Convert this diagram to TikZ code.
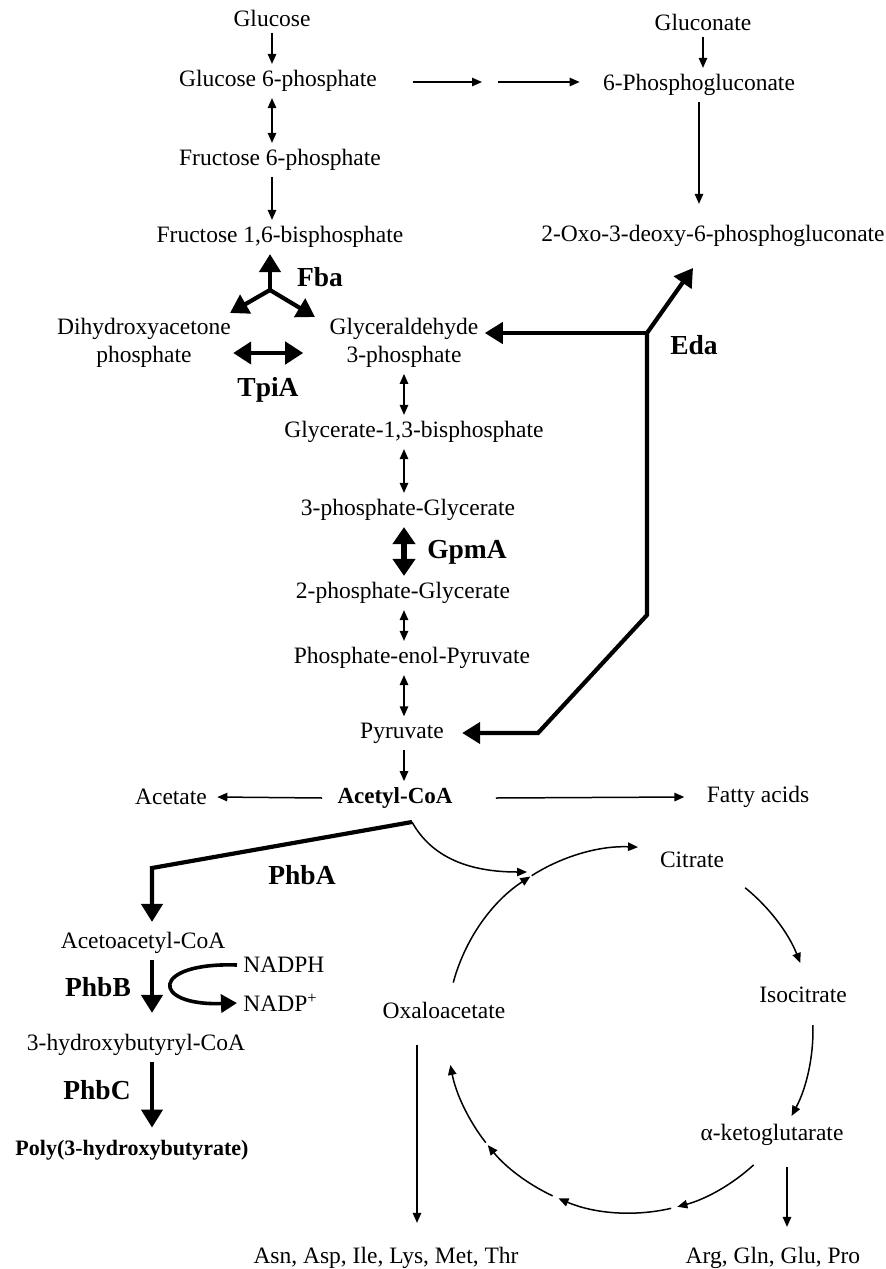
\documentclass[tikz,border=0pt]{standalone}
\usepackage{fontspec}
\setmainfont{Liberation Serif}
\usetikzlibrary{arrows.meta,calc}
\newcommand\metfont{\fontsize{11.75}{13.8}\selectfont}
\newcommand\enzfont{\fontsize{13.75}{16}\selectfont\bfseries}
\tikzset{
  met/.style={font=\metfont,inner sep=3pt,align=center},
  keymet/.style={met,font=\fontsize{11.5}{13.8}\selectfont\bfseries},
  enz/.style={font=\enzfont,inner sep=1pt},
  flow/.style={-{Triangle[length=5pt,width=4.2pt]},line width=0.75pt},
  flowboth/.style={{Triangle[length=5pt,width=4.2pt]}-{Triangle[length=5pt,width=4.2pt]},
                   line width=0.75pt},
  boldarr/.style={-{Triangle[length=9pt,width=10.5pt]},line width=2.1pt},
  boldboth/.style={{Triangle[length=9pt,width=11pt]}-{Triangle[length=9pt,width=11pt]},
                   line width=2.1pt},
  gpmboth/.style={{Triangle[length=8.5pt,width=11pt]}-{Triangle[length=8.5pt,width=11pt]},
                  line width=3.4pt},
  curvarr/.style={-{Triangle[length=8pt,width=9pt]},line width=1.8pt}
}

\begin{document}
\begin{tikzpicture}[x=0.5pt,y=-0.5pt]
    \useasboundingbox (0,0) rectangle (886,1269);
    \node[met] (glc) at (272,18) {Glucose};
    \node[met] (g6p) at (278,81) {Glucose 6-phosphate};
    \node[met] (f6p) at (280,160) {Fructose 6-phosphate};
    \node[met] (fbp) at (280,237) {Fructose 1,6-bisphosphate};
    \node[met] (dhap) at (144,343) {Dihydroxyacetone\\phosphate};
    \node[met] (gap) at (404,343) {Glyceraldehyde\\3-phosphate};
    \node[met] (g13bp) at (414,432) {Glycerate-1,3-bisphosphate};
    \node[met] (pg3) at (408,510) {3-phosphate-Glycerate};
    \node[met] (pg2) at (403,593) {2-phosphate-Glycerate};
    \node[met] (pep) at (412,658) {Phosphate-enol-Pyruvate};
    \node[met] (pyr) at (402,733) {Pyruvate};
    \node[keymet] (acoa) at (395,798) {Acetyl-CoA};
    \node[met] (acet) at (171,797) {Acetate};
    \node[met] (fatty) at (758,797) {Fatty acids};
    \node[met] (glcn) at (703,22) {Gluconate};
    \node[met] (ppg) at (699,85) {6-Phosphogluconate};
    \node[met] (kdpg) at (713,236) {2-Oxo-3-deoxy-6-phosphogluconate};

    \node[met] (acac) at (143,943) {Acetoacetyl-CoA};
    \node[met,anchor=west] (nadph) at (237,965) {NADPH};
    \node[met,anchor=west] (nadp) at (237,1003) {NADP\textsuperscript{+}};
    \node[met] (hbcoa) at (136,1045) {3-hydroxybutyryl-CoA};
    \node[met,font=\fontsize{11}{13}\selectfont\bfseries] (poly) at (132,1150)
      {Poly(3-hydroxybutyrate)};

    \node[met] (cit) at (692,860) {Citrate};
    \node[met] (icit) at (803,995) {Isocitrate};
    \node[met] (oaa) at (444,1010) {Oxaloacetate};
    \node[met] (akg) at (772,1135) {α-ketoglutarate};
    \node[met] (asn) at (386,1258) {Asn, Asp, Ile, Lys, Met, Thr};
    \node[met] (arg) at (773,1258) {Arg, Gln, Glu, Pro};

    \node[enz] (fba) at (320,277) {Fba};
    \node[enz] (tpia) at (268,390) {TpiA};
    \node[enz] (gpma) at (467,552) {GpmA};
    \node[enz] (eda) at (694,345) {Eda};
    \node[enz] (phba) at (302,875) {PhbA};
    \node[enz] (phbb) at (98,987) {PhbB};
    \node[enz] (phbc) at (97,1090) {PhbC};

    % upper glycolysis and gluconate
    \draw[flow] (glc.south) -- (glc.south |- g6p.north);
    \draw[flowboth] (glc.south |- g6p.south) -- (glc.south |- f6p.north);
    \draw[flow] (glc.south |- f6p.south) -- (glc.south |- fbp.north);
    \coordinate (ppmid) at (490,82);
    \draw[flow] ($(g6p.east |- ppmid)+(30,0)$) -- ($(ppmid)+(-8,0)$);
    \draw[flow] ($(ppmid)+(8,0)$) -- ($(ppmid -| ppg.west)+(-17,0)$);
    \draw[flow] (glcn.south) -- (glcn.south |- ppg.north);
    \draw[flow] (ppg.south) -- ($(ppg.south |- kdpg.north)+(0,-15)$);

    \coordinate (fbajn) at (270,290);
    \coordinate (fbaL) at (230,313);
    \coordinate (fbaR) at (315,317);
    \draw[boldarr] (fbajn) -- (fbajn |- fbp.south);
    \draw[boldarr] (fbajn) -- (fbaL);
    \draw[boldarr] (fbajn) -- (fbaR);
    \draw[boldboth] ($(dhap.east)+(-4,10)$) -- ($(gap.west)+(-20,10)$);

    % lower glycolysis
    \draw[flowboth] (gap.south) -- (gap.south |- g13bp.north);
    \draw[flowboth] (gap.south |- g13bp.south) -- (gap.south |- pg3.north);
    \draw[gpmboth] (gap.south |- pg3.south) -- (gap.south |- pg2.north);
    \draw[flowboth] (gap.south |- pg2.south) -- (gap.south |- pep.north);
    \draw[flowboth] (gap.south |- pep.south) -- (gap.south |- pyr.north);
    \draw[flow] (gap.south |- pyr.south) -- (gap.south |- acoa.north);
    \draw[flow] ($(acoa.west)+(-9,0)$) -- ($(acet.east)+(4,0)$);
    \draw[flow] ($(acoa.east)+(37,0)$) -- ($(fatty.west)+(-16,0)$);

    % Entner-Doudoroff branch
    \coordinate (edajn) at (647,333);
    \coordinate (edaup) at (693,268);
    \coordinate (edab1) at (647,615);
    \coordinate (edab2) at (538,733);
    \draw[boldarr] (edajn) -- (edajn -| gap.east);
    \draw[boldarr] (edajn) -- (edaup);
    \draw[boldarr] (edajn) -- (edab1) -- (edab2) -- ($(edab2 -| pyr.east)+(12,0)$);

    % PHB branch
    \coordinate (phbaS) at (412,822);
    \coordinate (phbaB) at (152,868);
    \draw[boldarr] (phbaS) -- (phbaB) -- ($(phbaB |- acac.north)+(0,-4)$);
    \draw[boldarr] (phbaB |- acac.south) -- ($(phbaB |- hbcoa.north)+(0,-15)$);
    \draw[curvarr] (nadph.west) .. controls (150,962) and (150,1006) .. (nadp.west);
    \draw[boldarr] (phbaB |- hbcoa.south) -- ($(phbaB |- poly.north)+(0,-6)$);

    % TCA cycle
    \coordinate (tca) at (630,1030);
    \coordinate (tcain) at (527,872);
    \draw[flow] (phbaS) .. controls (432,858) and (470,872) .. (tcain);
    \foreach \a/\b in {-165/-123,-122.5/-87.5,-51/-21.5,-1.5/28,47.5/75,77/113,115/141,142/169}
      \draw[flow] ($(tca)+(\a:183)$) arc[start angle=\a,end angle=\b,radius=183];
    \draw[flow] ($(oaa.south)+(-27,20)$) -- ($(oaa.south |- asn.north)+(-27,-18)$);
    \draw[flow] ($(akg.south)+(15,15)$) -- ($(akg.south |- arg.north)+(15,-14)$);
\end{tikzpicture}
\end{document}
